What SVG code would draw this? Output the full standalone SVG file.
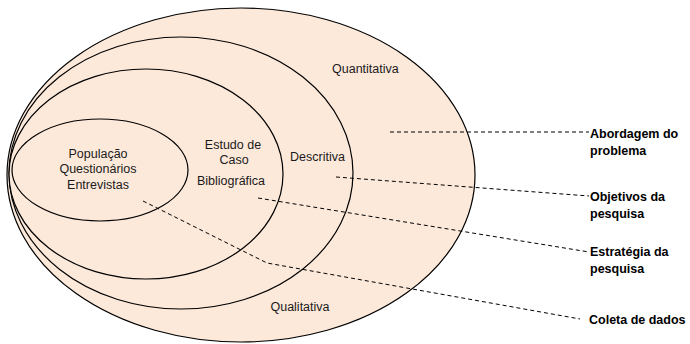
<svg xmlns="http://www.w3.org/2000/svg" width="690" height="344" viewBox="0 0 690 344">
<style>
.e{fill:#FDE9DA;stroke:#000;stroke-width:1.2}
.t{font-family:"Liberation Sans",Arial,sans-serif;font-size:12.5px;fill:#1a1a1a}
.c{text-anchor:middle}
.b{font-family:"Liberation Sans",Arial,sans-serif;font-size:12.5px;font-weight:bold;fill:#000}
.d{fill:none;stroke:#000;stroke-width:1;stroke-dasharray:4,3}
</style>
<rect width="690" height="344" fill="#fff"/>
<g id="quantitativa">
<ellipse class="e" cx="241" cy="175" rx="234" ry="167"/>
<text class="t" x="332" y="73">Quantitativa</text>
<text class="t c" x="300" y="311">Qualitativa</text>
</g>
<g id="descritiva">
<ellipse class="e" cx="181" cy="173" rx="172" ry="136"/>
<text class="t" x="290" y="161">Descritiva</text>
</g>
<g id="estudo">
<ellipse class="e" cx="146" cy="174" rx="137" ry="105"/>
<text class="t c" x="233" y="149">Estudo de</text>
<text class="t c" x="234" y="164">Caso</text>
<text class="t c" x="231" y="185">Bibliográfica</text>
</g>
<g id="populacao">
<ellipse class="e" cx="100" cy="170" rx="88" ry="51"/>
<text class="t c" x="98" y="158">População</text>
<text class="t c" x="98" y="173">Questionários</text>
<text class="t c" x="98" y="189">Entrevistas</text>
</g>
<g id="connectors">
<line class="d" x1="390" y1="132" x2="589" y2="132"/>
<line class="d" x1="336" y1="177" x2="589" y2="196"/>
<line class="d" x1="258" y1="198" x2="589" y2="252"/>
<polyline class="d" points="143,201 267,263 580,319"/>
</g>
<g id="labels">
<text class="b" x="590" y="138">Abordagem do</text>
<text class="b" x="590" y="155">problema</text>
<text class="b" x="590" y="201">Objetivos da</text>
<text class="b" x="590" y="218">pesquisa</text>
<text class="b" x="590" y="256">Estratégia da</text>
<text class="b" x="590" y="273">pesquisa</text>
<text class="b" x="589" y="324">Coleta de dados</text>
</g>
</svg>
